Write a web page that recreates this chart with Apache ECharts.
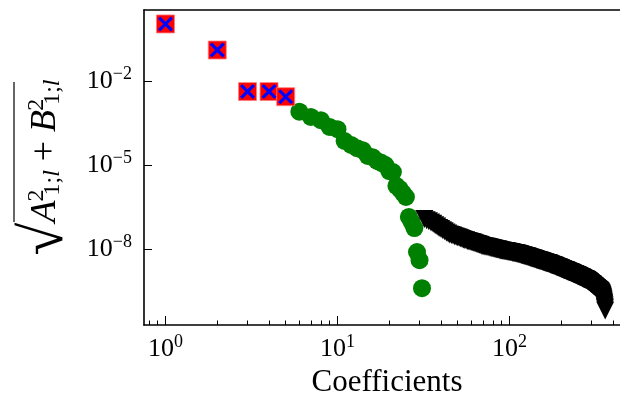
<!DOCTYPE html>
<html><head><meta charset="utf-8">
<script src="https://cdn.jsdelivr.net/npm/echarts@6/dist/echarts.min.js"></script>
<style>html,body{margin:0;padding:0;background:#fff}#c{width:620px;height:394px}</style>
</head><body><div id="c"></div>
<script>
// ---- data ----
const redX = [1, 2, 3, 4, 5];
const redY = [1.09, 0.128, 4.2e-3, 4.2e-3, 2.75e-3];

const greenX = [6,7,8,9,10,11,12,13,14,15,16,17,18,19,20,21,22,23,24,25,26,27,28,29,30,31];
const greenY = [8.0e-4,5.2e-4,4.0e-4,2.3e-4,1.9e-4,7.2e-5,5.2e-5,4.0e-5,3.4e-5,2.1e-5,1.9e-5,1.4e-5,1.2e-5,1.0e-5,
  6.1e-6,5.6e-6,1.8e-6,1.4e-6,1.0e-6,7.2e-7,1.4e-7,9.2e-8,5.6e-8,7.8e-9,4.0e-9,4.0e-10];

const blackFirstX = 32;
const blackY = [
  1.18e-7,1.07e-7,9.77e-8,8.91e-8,7.94e-8,7.08e-8,6.31e-8,5.62e-8,5.13e-8,4.68e-8,4.27e-8,3.89e-8,3.55e-8,3.31e-8,
  3.16e-8,3.02e-8,2.88e-8,2.75e-8,2.63e-8,2.51e-8,2.40e-8,2.29e-8,2.19e-8,2.09e-8,2.04e-8,1.95e-8,1.91e-8,1.82e-8,
  1.78e-8,1.74e-8,1.66e-8,1.62e-8,1.55e-8,1.51e-8,1.48e-8,1.41e-8,1.38e-8,1.32e-8,1.29e-8,1.26e-8,1.23e-8,1.20e-8,
  1.20e-8,1.17e-8,1.15e-8,1.12e-8,1.10e-8,1.07e-8,1.07e-8,1.05e-8,1.02e-8,1.00e-8,9.77e-9,9.55e-9,9.55e-9,9.33e-9,
  9.12e-9,8.91e-9,8.91e-9,8.71e-9,8.71e-9,8.51e-9,8.51e-9,8.32e-9,8.32e-9,8.13e-9,7.94e-9,7.94e-9,7.76e-9,7.76e-9,
  7.59e-9,7.59e-9,7.41e-9,7.41e-9,7.24e-9,7.24e-9,7.08e-9,7.08e-9,6.92e-9,6.76e-9,6.76e-9,6.61e-9,6.46e-9,6.46e-9,
  6.31e-9,6.17e-9,6.17e-9,6.03e-9,5.89e-9,5.89e-9,5.75e-9,5.62e-9,5.62e-9,5.50e-9,5.37e-9,5.37e-9,5.25e-9,5.13e-9,
  5.13e-9,5.01e-9,4.90e-9,4.90e-9,4.79e-9,4.68e-9,4.68e-9,4.57e-9,4.47e-9,4.47e-9,4.37e-9,4.37e-9,4.27e-9,4.17e-9,
  4.17e-9,4.07e-9,4.07e-9,3.98e-9,3.89e-9,3.89e-9,3.80e-9,3.80e-9,3.72e-9,3.72e-9,3.63e-9,3.55e-9,3.55e-9,3.47e-9,
  3.47e-9,3.39e-9,3.39e-9,3.31e-9,3.24e-9,3.24e-9,3.16e-9,3.16e-9,3.09e-9,3.09e-9,3.02e-9,3.02e-9,2.95e-9,2.95e-9,
  2.88e-9,2.82e-9,2.82e-9,2.75e-9,2.75e-9,2.69e-9,2.63e-9,2.63e-9,2.57e-9,2.57e-9,2.51e-9,2.51e-9,2.45e-9,2.40e-9,
  2.40e-9,2.34e-9,2.34e-9,2.29e-9,2.29e-9,2.24e-9,2.19e-9,2.19e-9,2.14e-9,2.14e-9,2.09e-9,2.09e-9,2.04e-9,2.00e-9,
  2.00e-9,1.95e-9,1.95e-9,1.91e-9,1.91e-9,1.86e-9,1.82e-9,1.82e-9,1.78e-9,1.78e-9,1.74e-9,1.74e-9,1.70e-9,1.70e-9,
  1.66e-9,1.66e-9,1.62e-9,1.62e-9,1.58e-9,1.58e-9,1.55e-9,1.55e-9,1.51e-9,1.51e-9,1.48e-9,1.48e-9,1.45e-9,1.45e-9,
  1.41e-9,1.41e-9,1.38e-9,1.38e-9,1.35e-9,1.35e-9,1.32e-9,1.32e-9,1.29e-9,1.29e-9,1.26e-9,1.26e-9,1.23e-9,1.23e-9,
  1.20e-9,1.20e-9,1.17e-9,1.17e-9,1.15e-9,1.15e-9,1.12e-9,1.12e-9,1.10e-9,1.10e-9,1.07e-9,1.07e-9,1.05e-9,1.05e-9,
  1.02e-9,1.02e-9,1.00e-9,1.00e-9,9.77e-10,9.77e-10,9.55e-10,9.55e-10,9.33e-10,9.33e-10,9.12e-10,9.12e-10,8.91e-10,
  8.91e-10,8.71e-10,8.71e-10,8.51e-10,8.51e-10,8.32e-10,8.32e-10,8.13e-10,8.13e-10,7.94e-10,7.94e-10,7.94e-10,
  7.76e-10,7.76e-10,7.59e-10,7.41e-10,7.41e-10,7.24e-10,7.08e-10,6.92e-10,6.92e-10,6.76e-10,6.61e-10,6.46e-10,
  6.46e-10,6.31e-10,6.17e-10,6.03e-10,6.03e-10,5.89e-10,5.75e-10,5.62e-10,5.62e-10,5.50e-10,5.37e-10,5.25e-10,
  5.25e-10,5.13e-10,5.01e-10,5.01e-10,4.90e-10,4.79e-10,4.68e-10,4.68e-10,4.57e-10,4.47e-10,4.37e-10,4.37e-10,
  4.27e-10,4.17e-10,4.17e-10,4.07e-10,3.98e-10,3.98e-10,3.89e-10,3.80e-10,3.72e-10,3.72e-10,3.63e-10,3.55e-10,
  3.55e-10,3.47e-10,3.39e-10,3.39e-10,3.31e-10,3.24e-10,3.24e-10,3.16e-10,3.09e-10,3.02e-10,2.95e-10,2.88e-10,
  2.82e-10,2.69e-10,2.63e-10,2.51e-10,2.40e-10,2.29e-10,2.19e-10,2.09e-10,1.95e-10,1.82e-10,1.70e-10,1.58e-10,
  1.45e-10,1.32e-10,1.20e-10,1.10e-10,9.77e-11,8.71e-11,7.59e-11,6.31e-11
];

const xMajorTicks = [1, 10, 100];
const xMinorTicks = [0.8, 0.9, 2, 3, 4, 5, 6, 7, 8, 9, 20, 30, 40, 50, 60, 70, 80, 90, 200, 300, 400];
const yMajorTicks = [1e-8, 1e-5, 1e-2];
const xLabelText = 'Coefficients';

// ---- build ----
const lg = Math.log10;
const pts = (xs, ys) => ys.map((y, i) => [lg(xs[i]), lg(y)]);
const blackPts = blackY.map((y, i) => [lg(blackFirstX + i), lg(y)]);

const FONT = 'Liberation Serif';
const X_MIN = lg(0.75), X_MAX = X_MIN + 2.8256;
const Y_MIN = -10.714, Y_MAX = 0.536;

const powLabel = v => {
  const e = Math.round(v);
  return '{b|10}{s|' + (e < 0 ? '\u2212' + (-e) : e) + '}';
};
const powRich = {
  b: {fontFamily: FONT, fontSize: 26, color: '#000'},
  s: {fontFamily: FONT, fontSize: 18, color: '#000', padding: [0, 0, 14, 0]}
};
const xCross = 'path://M0,1.5L1.5,0L5,3.5L8.5,0L10,1.5L6.5,5L10,8.5L8.5,10L5,6.5L1.5,10L0,8.5L3.5,5Z';
const line = {show: true, onZero: false, lineStyle: {color: '#000', width: 1.6}};

const chart = echarts.init(document.getElementById('c'), null, {renderer: 'canvas'});
chart.setOption({
  animation: false,
  backgroundColor: '#fff',
  grid: {left: 144, right: -10, top: 10, bottom: 69, outerBoundsMode: 'none', containLabel: false, show: false},
  xAxis: [{
    type: 'value', min: X_MIN, max: X_MAX, position: 'bottom',
    axisLine: line,
    splitLine: {show: false},
    axisTick: {show: true, inside: true, length: 9, lineStyle: {color: '#000', width: 1}, customValues: xMajorTicks.map(lg)},
    axisLabel: {show: true, customValues: xMajorTicks.map(lg), formatter: powLabel, rich: powRich, margin: 8},
    name: xLabelText, nameLocation: 'middle', nameGap: 40,
    nameTextStyle: {fontFamily: FONT, fontSize: 31, color: '#000'}
  }, {
    type: 'value', min: X_MIN, max: X_MAX, position: 'bottom',
    axisLine: {show: false, onZero: false}, splitLine: {show: false}, axisLabel: {show: false},
    axisTick: {show: true, inside: true, length: 4.5, lineStyle: {color: '#000', width: 1}, customValues: xMinorTicks.map(lg)}
  }, {
    type: 'value', min: X_MIN, max: X_MAX, position: 'top',
    axisLine: line, splitLine: {show: false}, axisLabel: {show: false}, axisTick: {show: false}
  }],
  yAxis: {
    type: 'value', min: Y_MIN, max: Y_MAX, position: 'left',
    axisLine: line,
    splitLine: {show: false},
    axisTick: {show: true, inside: true, length: 8, lineStyle: {color: '#000', width: 1}, customValues: yMajorTicks.map(lg)},
    axisLabel: {show: true, customValues: yMajorTicks.map(lg), formatter: powLabel, rich: powRich, margin: 12},
    name: '{r|\u221A}{i|A}{sp|2}{sb|1;}{sbi|l}{n| + }{i|B}{sp|2}{sb|1;}{sbi|l}',
    nameLocation: 'middle', nameRotate: 90, nameGap: 66,
    nameTextStyle: {
      color: '#000',
      rich: {
        r: {fontFamily: FONT, fontSize: 60, color: '#000'},
        i: {fontFamily: FONT, fontStyle: 'italic', fontSize: 36, color: '#000'},
        n: {fontFamily: FONT, fontSize: 36, color: '#000'},
        sp: {fontFamily: FONT, fontSize: 24, color: '#000', width: 0.1, padding: [0, 0, 18, 5]},
        sb: {fontFamily: FONT, fontSize: 24, color: '#000', padding: [14, 0, 0, 0]},
        sbi: {fontFamily: FONT, fontStyle: 'italic', fontSize: 24, color: '#000', padding: [14, 0, 0, 0]}
      }
    }
  },
  graphic: [{type: 'line', shape: {x1: 14, y1: 82, x2: 14, y2: 222}, style: {stroke: '#000', lineWidth: 1.2}, silent: true}],
  series: [
    {type: 'scatter', name: 'green', data: pts(greenX, greenY), symbol: 'circle', symbolSize: 18,
     itemStyle: {color: '#008000', opacity: 1}, z: 2, silent: true},
    {type: 'scatter', name: 'black', data: blackPts, symbol: 'triangle', symbolRotate: 180, symbolSize: 18,
     itemStyle: {color: '#000', opacity: 1}, z: 3, silent: true, large: false},
    {type: 'scatter', name: 'red', data: pts(redX, redY), symbol: 'rect', symbolSize: 18,
     itemStyle: {color: '#ff0000', borderColor: '#ff8080', borderWidth: 0.8, opacity: 1}, z: 4, silent: true},
    {type: 'scatter', name: 'blue', data: pts(redX, redY), symbol: xCross, symbolSize: 15,
     itemStyle: {color: '#0000ff', opacity: 1}, z: 5, silent: true}
  ]
});
</script></body></html>
